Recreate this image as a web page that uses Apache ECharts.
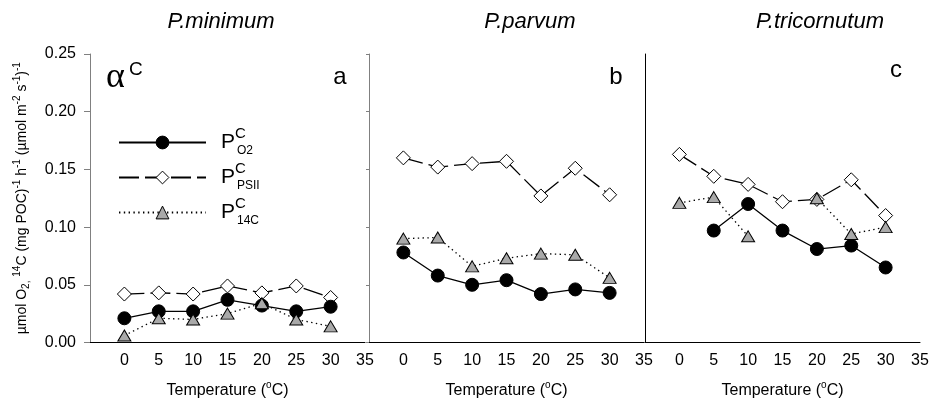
<!DOCTYPE html>
<html>
<head>
<meta charset="utf-8">
<script src="https://cdn.jsdelivr.net/npm/echarts@6/dist/echarts.min.js"></script>
<style>
  html, body { margin: 0; padding: 0; background: #fff; }
  #chart { width: 931px; height: 412px; }
</style>
</head>
<body>
<div id="chart"></div>
<script>
// Temperatures (°C) at which the rates were measured
const temps = [0, 5, 10, 15, 20, 25, 30];

// Species shown in the three panels and their letters
const species = ['P.minimum', 'P.parvum', 'P.tricornutum'];
const panelLetters = ['a', 'b', 'c'];

// Series names (subscripts of P^C)
const seriesNames = ['O2', 'PSII', '14C'];

// P. minimum
const minimumO2   = [0.021, 0.027, 0.027, 0.037, 0.032, 0.027, 0.031];
const minimumPSII = [0.042, 0.043, 0.042, 0.049, 0.043, 0.049, 0.039];
const minimum14C  = [0.006, 0.021, 0.020, 0.025, 0.034, 0.020, 0.014];

// P. parvum
const parvumO2   = [0.078, 0.058, 0.050, 0.054, 0.042, 0.046, 0.043];
const parvumPSII = [0.160, 0.152, 0.155, 0.157, 0.127, 0.151, 0.128];
const parvum14C  = [0.090, 0.091, 0.066, 0.073, 0.077, 0.076, 0.056];

// P. tricornutum (null = not measured)
const tricornutumO2   = [null, 0.097, 0.120, 0.097, 0.081, 0.084, 0.065];
const tricornutumPSII = [0.163, 0.144, 0.137, 0.122, 0.124, 0.141, 0.110];
const tricornutum14C  = [0.121, 0.126, 0.092, null, 0.125, 0.094, 0.100];

// Axis ranges
const xMin = -5, xMax = 35, xStep = 5;
const yMin = 0, yMax = 0.25, yStep = 0.05;

const panels = [
  { O2: minimumO2, PSII: minimumPSII, C14: minimum14C },
  { O2: parvumO2, PSII: parvumPSII, C14: parvum14C },
  { O2: tricornutumO2, PSII: tricornutumPSII, C14: tricornutum14C }
];

const FONT = '"Liberation Sans", Arial, Helvetica, sans-serif';
const SERIF = '"Liberation Serif", "Times New Roman", "DejaVu Serif", serif';

const gridTop = 54, gridHeight = 288.5, gridWidth = 275;
const gridLefts = [90, 369, 645];

function pairs(values) {
  return temps.map((t, i) => [t, values[i] == null ? '-' : values[i]]);
}

const lineBase = { color: '#000', width: 1.3 };

const styles = {
  O2: {
    symbol: 'circle', symbolSize: 13,
    itemStyle: { color: '#000', borderColor: '#000', borderWidth: 1 },
    lineStyle: Object.assign({}, lineBase, { type: 'solid' }), z: 3
  },
  PSII: {
    symbol: 'diamond', symbolSize: [14, 14],
    itemStyle: { color: '#fff', borderColor: '#000', borderWidth: 1 },
    lineStyle: Object.assign({}, lineBase, { type: [20, 6] }), z: 2
  },
  C14: {
    symbol: 'triangle', symbolSize: [13, 11],
    itemStyle: { color: '#a9a9a9', borderColor: '#000', borderWidth: 1 },
    lineStyle: Object.assign({}, lineBase, { type: [1.4, 3.4] }), z: 4
  }
};

const grids = [], xAxes = [], yAxes = [], series = [];

panels.forEach((p, k) => {
  grids.push({
    left: gridLefts[k], top: gridTop, width: gridWidth, height: gridHeight,
    outerBoundsMode: 'none', containLabel: false
  });

  xAxes.push({
    type: 'value', gridIndex: k, min: xMin, max: xMax, interval: xStep,
    axisLine: { onZero: false, lineStyle: { color: '#000', width: 1 } },
    axisTick: { show: false },
    splitLine: { show: false },
    axisLabel: {
      color: '#000', fontSize: 16, fontFamily: FONT, margin: 10,
      formatter: v => (v < 0 ? '' : String(v))
    },
    name: 'Temperature ({o|o}C)',
    nameLocation: 'middle', nameGap: 38,
    nameTextStyle: {
      color: '#000', fontSize: 16, fontFamily: FONT,
      rich: { o: { fontSize: 10, fontFamily: FONT, padding: [0, 0, 10, 0], verticalAlign: 'middle' } }
    }
  });

  const y = {
    type: 'value', gridIndex: k, min: yMin, max: yMax, interval: yStep,
    splitLine: { show: false },
    axisLine: { show: true, onZero: false, lineStyle: { color: k === 2 ? '#000' : '#808080', width: 1 } },
    axisTick: { show: k < 2, length: k === 0 ? 6 : 3, lineStyle: { color: '#808080' } },
    axisLabel: { show: false }
  };
  if (k === 0) {
    y.axisLabel = {
      show: true, color: '#000', fontSize: 16, fontFamily: FONT, margin: 14,
      formatter: v => v.toFixed(2)
    };
    y.name = '\u00B5mol O{sub|2,} {sup|14}C (mg POC){sup|-1} h{sup|-1} (\u00B5mol m{sup|-2} s{sup|-1}){sup|-1}';
    y.nameLocation = 'middle';
    y.nameRotate = 90;
    y.nameGap = 58;
    y.nameTextStyle = {
      color: '#000', fontSize: 14, fontFamily: FONT,
      rich: {
        sup: { fontSize: 10, fontFamily: FONT, padding: [0, 0, 10, 0], verticalAlign: 'middle' },
        sub: { fontSize: 10, fontFamily: FONT, padding: [8, 0, 0, 0], verticalAlign: 'middle' }
      }
    };
  }
  yAxes.push(y);

  [['PSII', p.PSII], ['O2', p.O2], ['14C', p.C14]].forEach(([name, values]) => {
    const s = styles[name === '14C' ? 'C14' : name];
    series.push({
      name: name, type: 'line', xAxisIndex: k, yAxisIndex: k,
      data: pairs(values), connectNulls: false,
      symbol: s.symbol, symbolSize: s.symbolSize,
      itemStyle: s.itemStyle, lineStyle: s.lineStyle, z: s.z,
      emphasis: { disabled: true }, silent: true, animation: false
    });
  });
});

// Titles, panel letters and the alpha^C annotation
const titleCenters = [221, 530, 820];
const letterPos = [[340, 77], [616, 77], [896, 70]];
const graphics = [];
species.forEach((name, k) => {
  graphics.push({
    type: 'text', x: titleCenters[k], y: 22,
    style: {
      text: name, fill: '#000', fontSize: 22, fontStyle: 'italic', fontFamily: FONT,
      align: 'center', verticalAlign: 'middle'
    }
  });
  graphics.push({
    type: 'text', x: letterPos[k][0], y: letterPos[k][1],
    style: {
      text: panelLetters[k], fill: '#000', fontSize: 24, fontFamily: FONT,
      align: 'center', verticalAlign: 'middle'
    }
  });
});
graphics.push({
  type: 'text', x: 106, y: 78,
  style: { text: '\u03B1', fill: '#000', fontSize: 36, fontFamily: SERIF, align: 'left', verticalAlign: 'middle' }
});
graphics.push({
  type: 'text', x: 129, y: 70,
  style: { text: 'C', fill: '#000', fontSize: 19, fontFamily: FONT, align: 'left', verticalAlign: 'middle' }
});

const chart = echarts.init(document.getElementById('chart'), null, { renderer: 'canvas' });
chart.setOption({
  animation: false,
  backgroundColor: '#fff',
  grid: grids,
  xAxis: xAxes,
  yAxis: yAxes,
  series: series,
  legend: {
    data: seriesNames,
    orient: 'vertical',
    left: 113, top: 121,
    itemWidth: 87, itemHeight: 16, itemGap: 2,
    selectedMode: false,
    itemStyle: { borderWidth: 1, borderColor: '#000' },
    formatter: name => '{gap| }{p|P}{sup|C}{sub|' + name + '}',
    textStyle: {
      color: '#000', fontFamily: FONT,
      rich: {
        gap: { width: 10, fontSize: 10 },
        p: { fontSize: 21, lineHeight: 22, fontFamily: FONT, color: '#000', verticalAlign: 'middle' },
        sup: { fontSize: 15, lineHeight: 15, width: 2, fontFamily: FONT, color: '#000', padding: [0, 0, 18, 0], verticalAlign: 'middle' },
        sub: { fontSize: 12, lineHeight: 12, fontFamily: FONT, color: '#000', padding: [16, 0, 0, 0], verticalAlign: 'middle' }
      }
    }
  },
  graphic: graphics
});
</script>
</body>
</html>
